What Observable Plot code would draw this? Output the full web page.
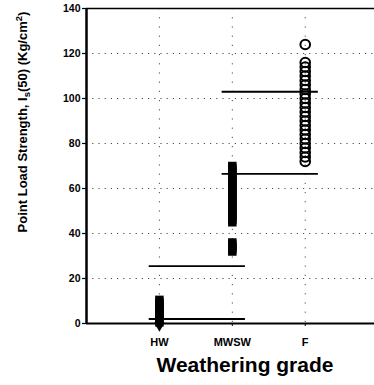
<!DOCTYPE html>
<html><head><meta charset="utf-8">
<script src="https://cdn.jsdelivr.net/npm/d3@7"></script>
<script src="https://cdn.jsdelivr.net/npm/@observablehq/plot@0.6"></script>
<style>body{margin:0;background:#fff}</style>
</head><body><div id="chart"></div>
<script>
const grades = ["HW", "MWSW", "F"];
const hwValues = [0.5, 1.5, 2.5, 3.5, 4.5, 5.5, 6.5, 7.5, 8.5, 9.5, 10.5];
const mwswValues = [32, 33, 34, 35, 36, 45, 46, 47, 48, 49, 50, 51, 52, 53, 54, 55, 56, 57, 58, 59, 60, 61, 62, 63, 64, 65, 66, 67, 68, 69, 70];
const fValues = [72, 74, 76, 78, 80, 82, 84, 86, 88, 90, 92, 94, 96, 98, 100, 102, 104, 106, 108, 110, 112, 114, 116, 124];
const lineGrades = ["HW", "HW", "MWSW", "MWSW"];
const lineValues = [2, 25.5, 66.5, 103];
const yTicks = [0, 20, 40, 60, 80, 100, 120, 140];

const idx = g => grades.indexOf(g) + 1;
const pts = [
  ...hwValues.map(v => ({g: "HW", v})),
  ...mwswValues.map(v => ({g: "MWSW", v}))
];
const open = fValues.map(v => ({g: "F", v}));
const lines = lineGrades.map((g, i) => ({g, v: lineValues[i]}));

const font = "'Liberation Sans', Arial, sans-serif";
const plot = Plot.plot({
  width: 374, height: 385,
  marginLeft: 86, marginRight: 0, marginTop: 8, marginBottom: 62,
  style: {fontFamily: font, background: "#fff", color: "#000"},
  x: {domain: [0, 3.95], axis: null},
  y: {domain: [0, 140], axis: null},
  marks: [
    Plot.gridY(yTicks.slice(1, -1), {stroke: "#000", strokeOpacity: 0.7, strokeDasharray: "1.2,5"}),
    Plot.gridX([1, 2, 3], {stroke: "#000", strokeOpacity: 0.7, strokeDasharray: "1.2,8"}),
    Plot.axisY(yTicks, {tickSize: 4, tickPadding: 2, fontSize: 10.5, fontWeight: "bold", label: null, strokeWidth: 1.2}),
    Plot.axisX([1, 2, 3], {tickSize: 3, tickPadding: 12, fontSize: 11, fontWeight: "bold", label: null, tickFormat: d => grades[d - 1]}),
    Plot.ruleY([0], {strokeWidth: 2}),
    Plot.ruleX([0], {strokeWidth: 2.5}),
    Plot.ruleY([140], {strokeWidth: 1.6}),
    Plot.ruleY(lines, {y: "v", x1: d => idx(d.g) - 0.14, x2: d => idx(d.g) + 1.18, strokeWidth: 1.8}),
    Plot.dot(pts, {x: d => idx(d.g), y: "v", symbol: "square", r: 4.8, fill: "#000"}),
    Plot.dot([{g: "HW", v: 0}], {x: d => idx(d.g), y: "v", symbol: "triangle", rotate: 180, r: 4, fill: "#000", dy: 2}),
    Plot.dot(open, {x: d => idx(d.g), y: "v", symbol: "circle", r: 4.8, stroke: "#000", strokeWidth: 2, fill: "none"})
  ]
});
const svg = d3.select(plot);
const yl = svg.append("text")
  .attr("transform", "translate(27,122) rotate(-90)")
  .attr("text-anchor", "middle")
  .attr("font-family", font).attr("font-weight", "bold").attr("font-size", 13);
yl.append("tspan").text("Point Load Strength, I");
yl.append("tspan").attr("font-size", 9.5).attr("dy", 3).text("s");
yl.append("tspan").attr("dy", -3).text("(50) (Kg/cm");
yl.append("tspan").attr("font-size", 9.5).attr("dy", -5).text("2");
yl.append("tspan").attr("dy", 5).text(")");
svg.append("text")
  .attr("x", 245).attr("y", 372)
  .attr("text-anchor", "middle")
  .attr("font-family", font).attr("font-weight", "bold").attr("font-size", 21)
  .text("Weathering grade");
document.getElementById("chart").append(plot);
</script>
</body></html>
